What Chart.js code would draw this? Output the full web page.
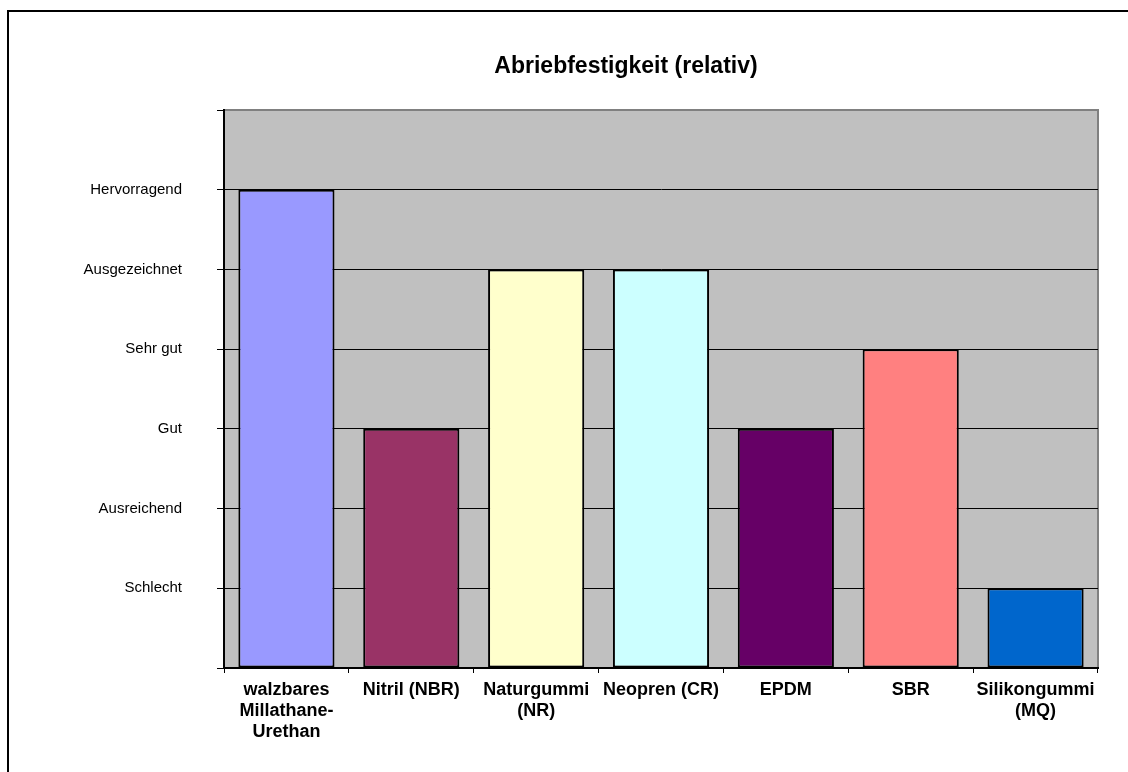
<!DOCTYPE html>
<html>
<head>
<meta charset="utf-8">
<title>Abriebfestigkeit (relativ)</title>
<script src="https://cdn.jsdelivr.net/npm/chart.js@4.4.1/dist/chart.umd.min.js"></script>
<style>
  html, body { margin: 0; padding: 0; background: #fff; overflow: hidden; }
  #rahmen { position: absolute; left: 7px; top: 10px; border: 2px solid #000; width: 1234px; height: 800px; }
  canvas { display: block; }
</style>
</head>
<body>
<div id="rahmen">
  <canvas id="chartAbrieb" width="1234" height="800"></canvas>
</div>
<script>
// Kategorien (Werkstoffe)
const werkstoffe = [
    ['walzbares', 'Millathane-', 'Urethan'],
    'Nitril (NBR)',
    ['Naturgummi', '(NR)'],
    'Neopren (CR)',
    'EPDM',
    'SBR',
    ['Silikongummi', '(MQ)']
];

// Bewertung: 1 = Schlecht ... 6 = Hervorragend
const bewertung = [6, 3, 5, 5, 3, 4, 1];

// Beschriftung der Y-Achse (Index = Wert)
const stufen = ['', 'Schlecht', 'Ausreichend', 'Gut', 'Sehr gut', 'Ausgezeichnet', 'Hervorragend', ''];

const farben = ['#9999FF', '#993366', '#FFFFCC', '#CCFFFF', '#660066', '#FF8080', '#0066CC'];

// Hintergrund der Zeichenfläche wie in Excel (grau)
const hintergrund = {
    id: 'hintergrund',
    afterLayout(chart) {
        // Titel mittig ueber dem ganzen (rechts abgeschnittenen) Diagramm
        if (chart.titleBlock) {
            chart.titleBlock.left = chart.width - chart.chartArea.right;
        }
    },
    beforeDraw(chart) {
        const { ctx, chartArea: a } = chart;
        ctx.save();
        ctx.fillStyle = '#C0C0C0';
        ctx.fillRect(a.left, a.top, a.right - a.left, a.bottom - a.top);
        ctx.strokeStyle = '#808080';
        ctx.lineWidth = 2;
        ctx.beginPath();
        ctx.moveTo(a.left, a.top);
        ctx.lineTo(a.right, a.top);
        ctx.lineTo(a.right, a.bottom);
        ctx.stroke();
        ctx.restore();
    }
};

const abrieb = document.getElementById('chartAbrieb');

new Chart(abrieb, {
    type: 'bar',
    data: {
        labels: werkstoffe,
        datasets: [{
            label: 'Abriebfestigkeit',
            data: bewertung,
            backgroundColor: farben,
            borderColor: '#000',
            borderWidth: 2,
            borderSkipped: false,
            categoryPercentage: 0.77,
            barPercentage: 1
        }]
    },
    options: {
        responsive: false,
        devicePixelRatio: 1,
        animation: false,
        layout: { padding: { left: 0, right: 145, top: 0, bottom: 0 } },
        plugins: {
            legend: { display: false },
            tooltip: { enabled: false },
            title: {
                display: true,
                text: 'Abriebfestigkeit (relativ)',
                color: '#000',
                font: { family: "'Liberation Sans', Arial, sans-serif", size: 23, weight: 'bold', lineHeight: 1.2 },
                padding: { top: 41, bottom: 29.4 }
            }
        },
        scales: {
            x: {
                afterFit(scale) { scale.height = 144; },
                grid: {
                    offset: true,
                    drawOnChartArea: false,
                    drawTicks: true,
                    tickLength: 5,
                    color: '#000'
                },
                border: { color: '#000', width: 2 },
                ticks: {
                    color: '#000',
                    padding: 6.5,
                    maxRotation: 0,
                    autoSkip: false,
                    font: { family: "'Liberation Sans', Arial, sans-serif", size: 18, weight: 'bold', lineHeight: 1.17 }
                }
            },
            y: {
                min: 0,
                max: 7,
                afterFit(scale) { scale.width = 215; },
                grid: {
                    color: function (c) { return c.tick && c.tick.value === 7 ? '#808080' : '#000'; },
                    tickColor: '#000',
                    lineWidth: 1,
                    tickLength: 7
                },
                border: { color: '#000', width: 2 },
                ticks: {
                    stepSize: 1,
                    color: '#000',
                    padding: 35,
                    font: { family: "'Liberation Sans', Arial, sans-serif", size: 15 },
                    callback: function (wert) { return stufen[wert]; }
                }
            }
        }
    },
    plugins: [hintergrund]
});
</script>
</body>
</html>
